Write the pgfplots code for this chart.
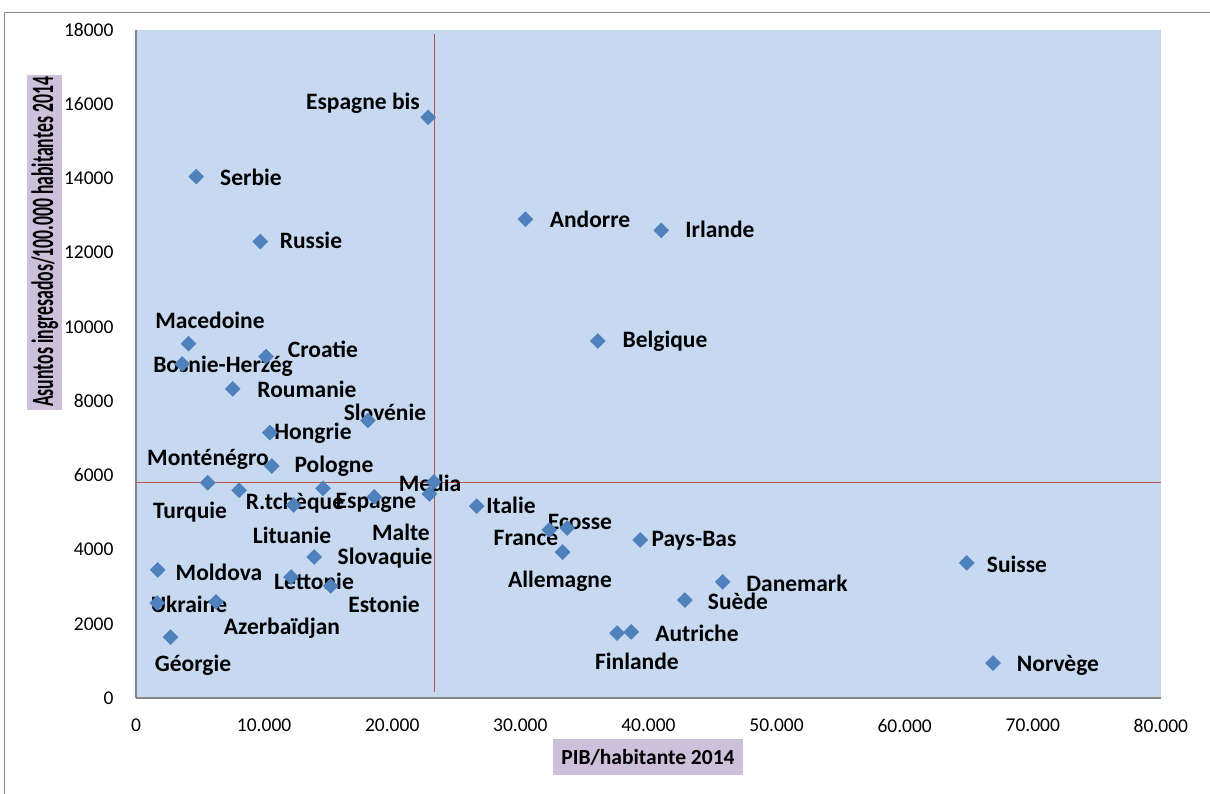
\documentclass[border=0pt]{standalone}
\usepackage{pgfplots}
\pgfplotsset{compat=1.18}
\usepackage{fontspec}
\setmainfont{Carlito}
\definecolor{plotbg}{HTML}{C6D9F1}
\definecolor{lblbg}{HTML}{CCC0DA}
\definecolor{mk}{HTML}{4F81BD}
\definecolor{redl}{HTML}{C0504D}
\definecolor{axgrey}{HTML}{868686}
\newcommand{\lbl}{\fontsize{23.5}{27}\selectfont\bfseries}
\pgfplotstableread{
x y
22800 15650
4700 14050
9700 12300
30400 12900
41000 12600
36050 9620
4100 9550
10150 9200
3600 9000
7550 8330
18100 7480
10450 7150
10600 6250
5600 5800
8050 5600
14600 5650
18600 5420
23250 5820
22900 5500
12300 5200
13900 3800
12100 3260
15200 3020
1700 3450
1650 2560
6250 2590
2700 1640
26600 5170
32250 4530
33650 4580
33300 3930
39350 4260
45800 3130
42850 2640
37550 1750
38650 1780
64850 3640
66900 940
}\pts
\begin{document}
\begin{tikzpicture}
\useasboundingbox (0,0) rectangle (1210pt,794pt);
\draw[axgrey, line width=1pt] (4pt,-5pt) -- (4pt,781pt) -- (1215pt,781pt);
\begin{axis}[
  at={(136pt,96pt)}, anchor=south west,
  scale only axis, width=1025pt, height=668pt,
  xmin=0, xmax=80000, ymin=0, ymax=18000,
  xtick={0,10000,...,80000}, ytick={0,2000,...,18000},
  scaled x ticks=false, scaled y ticks=false,
  xticklabel style={/pgf/number format/fixed, /pgf/number format/1000 sep={.}, /pgf/number format/assume math mode=true, font=\fontsize{19.5}{23}\selectfont, yshift=-17.5pt},
  yticklabel style={/pgf/number format/fixed, /pgf/number format/1000 sep={}, /pgf/number format/assume math mode=true, font=\fontsize{19.5}{23}\selectfont, xshift=-19pt},
  axis background/.style={fill=plotbg},
  axis lines=left, axis line style={-, draw=axgrey, line width=1.2pt},
  major tick length=0pt,
  clip=false,
  xlabel={PIB/habitante 2014},
  ylabel={\scalebox{0.57}[1]{Asuntos ingresados/100.000 habitantes 2014}},
  xlabel style={at={(axis description cs:0.4995,-0.0883)}, anchor=center,
    font=\fontsize{21.5}{25}\selectfont\bfseries, fill=lblbg,
    minimum width=190pt, minimum height=36pt, inner sep=2pt},
  ylabel style={at={(axis description cs:-0.0888,0.6826)}, anchor=center,
    font=\fontsize{31}{34}\selectfont\bfseries, fill=lblbg,
    minimum width=335pt, minimum height=35pt, inner sep=1pt},
]
\addplot[redl, line width=1.2pt] coordinates {(23300,150) (23300,17900)};
\addplot[redl, line width=1.2pt] coordinates {(0,5810) (80000,5810)};
\addplot[only marks, mark=square*, mark size=5.3pt, mark options={rotate=45, fill=mk, draw=mk}] table {\pts};
\node[font=\lbl] at (axis cs:17717,16035) {Espagne bis};
\node[font=\lbl] at (axis cs:8976,14041) {Serbie};
\node[font=\lbl] at (axis cs:13659,12343) {Russie};
\node[font=\lbl] at (axis cs:35435,12909) {Andorre};
\node[font=\lbl] at (axis cs:45581,12640) {Irlande};
\node[font=\lbl] at (axis cs:41288,9621) {Belgique};
\node[font=\lbl] at (axis cs:5776,10187) {Macedoine};
\node[font=\lbl] at (axis cs:14595,9406) {Croatie};
\node[font=\lbl] at (axis cs:6790,8947) {Bosnie-Herzég};
\node[font=\lbl] at (axis cs:13347,8328) {Roumanie};
\node[font=\lbl] at (axis cs:19434,7708) {Slovénie};
\node[font=\lbl] at (axis cs:13815,7142) {Hongrie};
\node[font=\lbl] at (axis cs:5620,6441) {Monténégro};
\node[font=\lbl] at (axis cs:15454,6252) {Pologne};
\node[font=\lbl] at (axis cs:22947,5794) {Media};
\node[font=\lbl] at (axis cs:4215,5013) {Turquie};
\node[font=\lbl] at (axis cs:12410,5255) {R.tchèque};
\node[font=\lbl] at (axis cs:18732,5255) {Espagne};
\node[font=\lbl] at (axis cs:29269,5201) {Italie};
\node[font=\lbl] at (axis cs:34654,4743) {Ecosse};
\node[font=\lbl] at (axis cs:12176,4393) {Lituanie};
\node[font=\lbl] at (axis cs:20683,4474) {Malte};
\node[font=\lbl] at (axis cs:30440,4312) {France};
\node[font=\lbl] at (axis cs:43552,4231) {Pays-Bas};
\node[font=\lbl] at (axis cs:19434,3773) {Slovaquie};
\node[font=\lbl] at (axis cs:6478,3396) {Moldova};
\node[font=\lbl] at (axis cs:13893,3153) {Lettonie};
\node[font=\lbl] at (axis cs:68762,3611) {Suisse};
\node[font=\lbl] at (axis cs:33093,3153) {Allemagne};
\node[font=\lbl] at (axis cs:51591,3099) {Danemark};
\node[font=\lbl] at (axis cs:4137,2533) {Ukraine};
\node[font=\lbl] at (axis cs:19356,2533) {Estonie};
\node[font=\lbl] at (axis cs:46986,2614) {Suède};
\node[font=\lbl] at (axis cs:11395,1887) {Azerbaïdjan};
\node[font=\lbl] at (axis cs:43786,1752) {Autriche};
\node[font=\lbl] at (axis cs:39103,997) {Finlande};
\node[font=\lbl] at (axis cs:4449,889) {Géorgie};
\node[font=\lbl] at (axis cs:71962,889) {Norvège};
\end{axis}
\end{tikzpicture}
\end{document}
